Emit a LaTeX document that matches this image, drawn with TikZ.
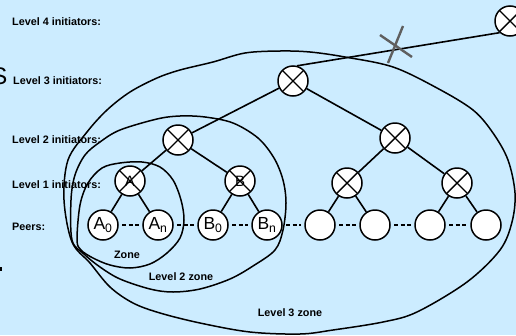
\documentclass[tikz,border=0pt]{standalone}
\usepackage{fontspec}
\setmainfont{Liberation Sans}
\definecolor{bgblue}{RGB}{204,236,255}
\definecolor{markgray}{RGB}{95,95,95}
\begin{document}
\begin{tikzpicture}[x=1pt,y=-1pt,
  lbl/.style={font=\fontsize{10.8}{12}\selectfont\bfseries,inner sep=0pt},
  initnode/.style={circle,draw=black,line width=1.5pt,fill=white,minimum size=30pt,inner sep=0pt,
    path picture={\draw[line width=1.4pt] (path picture bounding box.north west) -- (path picture bounding box.south east)
      (path picture bounding box.north east) -- (path picture bounding box.south west);}},
  peernode/.style={circle,draw=black,line width=1.5pt,fill=white,minimum size=30pt,inner sep=0pt,
    font=\fontsize{17.5}{19}\selectfont},
  edge/.style={line width=1.6pt},
  zone/.style={line width=1.5pt},
  peerdash/.style={line width=2.2pt,dash pattern=on 4pt off 2.4pt,shorten >=3.5pt,shorten <=3.5pt}]
\fill[bgblue] (0,0) rectangle (516,335);
\useasboundingbox (0,0) rectangle (516,335);

% labels
\node[lbl,anchor=west] (t4) at (12,22) {Level 4 initiators:};
\node[lbl,anchor=west] (t3) at (13,80.5) {Level 3 initiators:};
\node[lbl,anchor=west] (t2) at (12,140) {Level 2 initiators:};
\node[lbl,anchor=west] (t1) at (12,185) {Level 1 initiators:};
\node[lbl,anchor=west] (tp) at (12,226.5) {Peers:};
\node[lbl] (z1) at (127,255) {Zone};
\node[lbl] (z2) at (181,277) {Level 2 zone};
\node[lbl] (z3) at (290,313) {Level 3 zone};
\node[font=\fontsize{24}{26}\selectfont,inner sep=0pt,anchor=east] (s) at (7.5,76) {S};
\fill[black] (0,267) rectangle (1.5,271);

% zones
\draw[zone] plot[smooth cycle,tension=0.55] coordinates {
 (64,200) (68,160) (87,132) (107,110) (130,92) (157,78) (180,70) (213,62) (245,53) (280,51)
 (310,52) (345,57) (393,67) (437,88) (473,110) (493,133) (508,160) (515,193) (512,222)
 (500,250) (467,282) (417,312) (383,322) (333,330) (300,334) (250,332) (200,323) (160,313)
 (133,303) (110,287) (90,263) (72,242)};
\draw[zone] plot[smooth cycle,tension=0.55] coordinates {
 (72,240) (71,200) (75,175) (85,155) (100,142) (120,130) (157,119) (180,116) (205,117)
 (233,123) (258,138) (274,158) (283,180) (286,203) (283,230) (275,250) (253,266) (230,279)
 (200,289) (173,292) (150,289) (120,279) (100,267) (84,254)};
\draw[zone] plot[smooth cycle,tension=0.55] coordinates {
 (77,240) (80,205) (88,183) (102,168) (120,163) (142,162) (160,167) (173,180) (181,200)
 (184,220) (180,238) (167,253) (150,264) (130,268) (110,265) (93,258) (81,250)};

% nodes
\node[initnode] (l4) at (510,21) {};
\node[initnode] (l3) at (293,81) {};
\node[initnode] (l2a) at (178,140) {};
\node[initnode] (l2b) at (395,138) {};
\node[initnode,font=\fontsize{15}{17}\selectfont] (l1a) at (130,181) {A};
\node[initnode,font=\fontsize{15}{17}\selectfont] (l1b) at (240,181) {B};
\node[initnode] (l1c) at (347,183) {};
\node[initnode] (l1d) at (457,183) {};
\node[peernode] (pa0) at (103,225) {A\textsubscript{0}};
\node[peernode] (pan) at (158,225) {A\textsubscript{n}};
\node[peernode] (pb0) at (213,225) {B\textsubscript{0}};
\node[peernode] (pbn) at (267,225) {B\textsubscript{n}};
\node[peernode] (p5) at (320,225) {};
\node[peernode] (p6) at (375,225) {};
\node[peernode] (p7) at (430,225) {};
\node[peernode] (p8) at (486,225) {};

% edges
\draw[edge] (l3.75) -- (l4.228);
\draw[edge] (l3) -- (l2a);
\draw[edge] (l3) -- (l2b);
\draw[edge] (l2a) -- (l1a);
\draw[edge] (l2a) -- (l1b);
\draw[edge] (l2b) -- (l1c);
\draw[edge] (l2b) -- (l1d);
\draw[edge] (l1a) -- (pa0);
\draw[edge] (l1a) -- (pan);
\draw[edge] (l1b) -- (pb0);
\draw[edge] (l1b) -- (pbn);
\draw[edge] (l1c) -- (p5);
\draw[edge] (l1c) -- (p6);
\draw[edge] (l1d) -- (p7);
\draw[edge] (l1d) -- (p8);

% peer dashes
\draw[peerdash] (pa0) -- (pan);
\draw[peerdash] (pan) -- (pb0);
\draw[peerdash] (pb0) -- (pbn);
\draw[peerdash] (pbn) -- (p5);
\draw[peerdash] (p5) -- (p6);
\draw[peerdash] (p6) -- (p7);
\draw[peerdash] (p7) -- (p8);

% broken link mark
\coordinate (m1) at (380,35);
\coordinate (m2) at (412,57);
\coordinate (m3) at (403,26);
\coordinate (m4) at (388,63);
\draw[markgray,line width=2.4pt] (m1) -- (m2);
\draw[markgray,line width=2.4pt] (m3) -- (m4);
\end{tikzpicture}
\end{document}
